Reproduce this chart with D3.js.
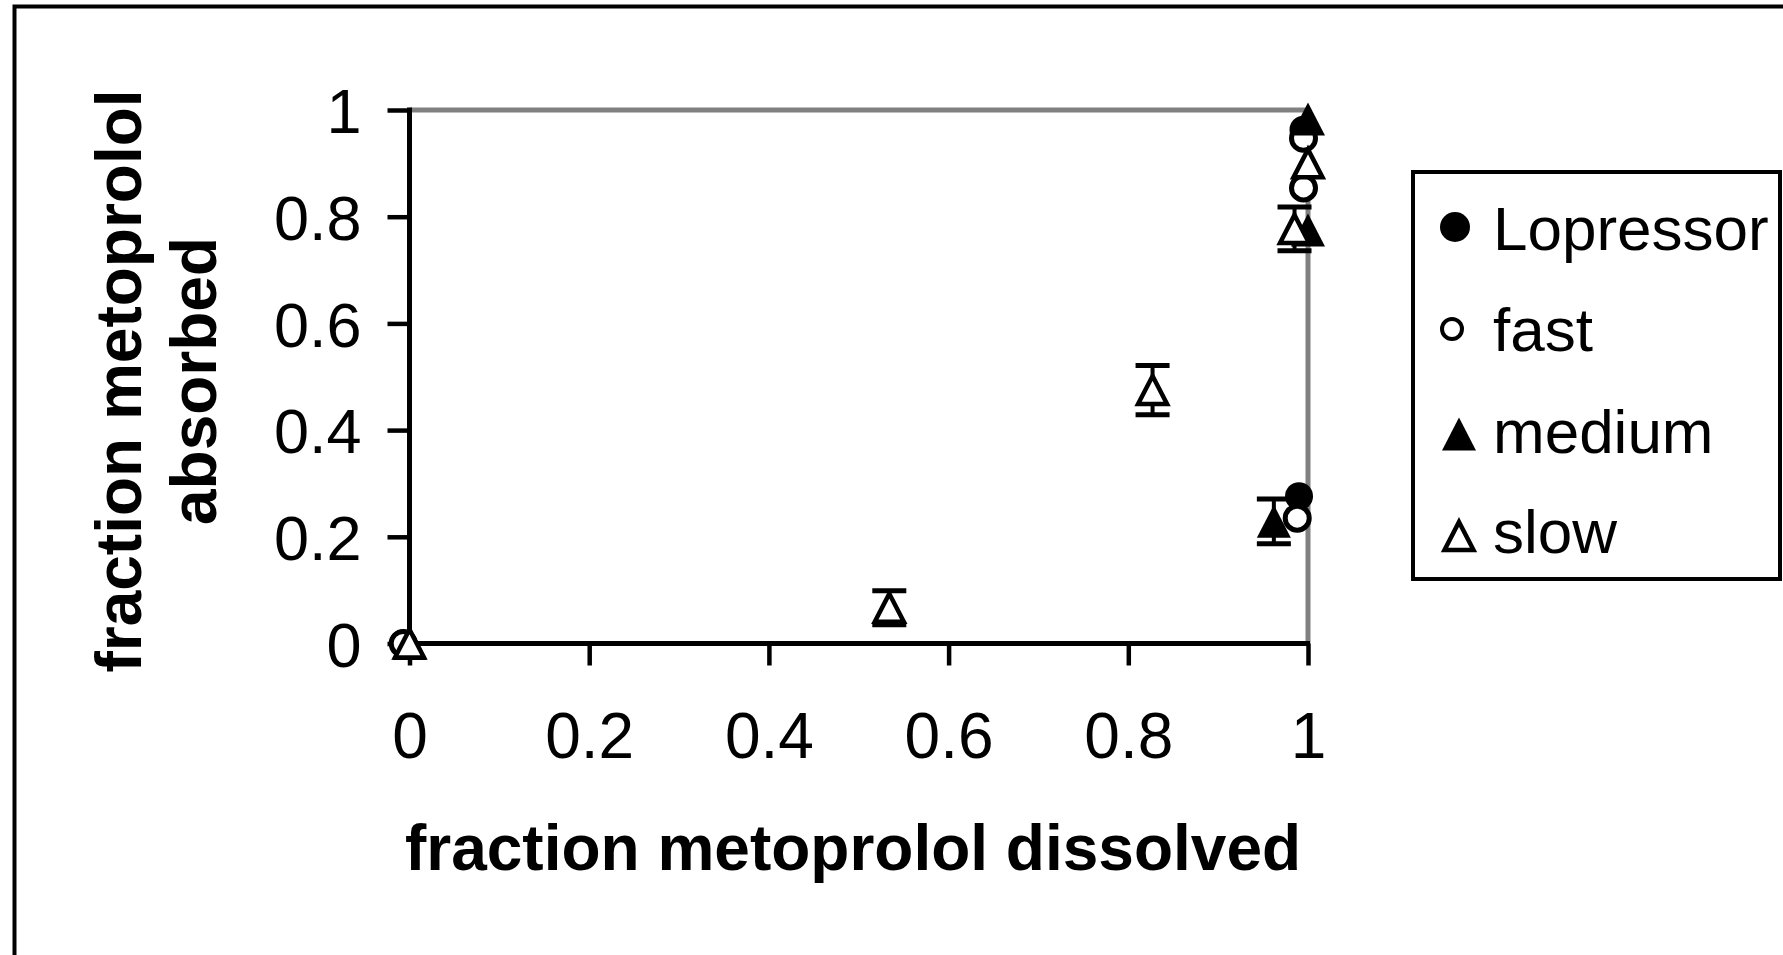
<!DOCTYPE html>
<html><head><meta charset="utf-8">
<script src="https://cdn.jsdelivr.net/npm/d3@7"></script>
<style>html,body{margin:0;padding:0;background:#fff;overflow:hidden}</style>
</head><body><svg id="c" width="1783" height="955"></svg>
<script>
// ---- data ----
const xTicks = [0, 0.2, 0.4, 0.6, 0.8, 1];
const yTicks = [0, 0.2, 0.4, 0.6, 0.8, 1];
const xTickLabels = ["0", "0.2", "0.4", "0.6", "0.8", "1"];
const yTickLabels = ["0", "0.2", "0.4", "0.6", "0.8", "1"];
const seriesNames = ["Lopressor", "fast", "medium", "slow"];

const lopressorX = [-0.007, 0.990, 0.995];
const lopressorY = [0, 0.276, 0.963];
const fastX = [-0.007, 0.988, 0.995, 0.995];
const fastY = [0, 0.235, 0.854, 0.947];
const mediumX = [0, 0.962, 1.0, 1.0];
const mediumY = [0, 0.229, 0.775, 0.983];
const mediumErr = [0, 0.042, 0, 0];
const slowX = [0, 0.534, 0.827, 0.985, 1.0];
const slowY = [0, 0.067, 0.475, 0.777, 0.90];
const slowErr = [0, 0.032, 0.046, 0.041, 0];

const svg = d3.select("#c");
const x = d3.scaleLinear().domain([0, 1]).range([409.5, 1308]);
const y = d3.scaleLinear().domain([0, 1]).range([643.5, 110]);

// outer frame
svg.append("rect").attr("x", 14.5).attr("y", 6.5).attr("width", 1800).attr("height", 1000)
  .attr("fill", "none").attr("stroke", "#000").attr("stroke-width", 4);

// plot frame (gray top and right)
svg.append("line").attr("x1", x(0)).attr("x2", x(1)).attr("y1", y(1)).attr("y2", y(1))
  .attr("stroke", "#808080").attr("stroke-width", 5);
svg.append("line").attr("x1", x(1)).attr("x2", x(1)).attr("y1", y(1)).attr("y2", y(0))
  .attr("stroke", "#808080").attr("stroke-width", 5);

const font = "'Liberation Sans', Arial, sans-serif";

// axes
const xAxis = d3.axisBottom(x).tickValues(xTicks).tickSize(22).tickPadding(0)
  .tickFormat((d, i) => xTickLabels[i]);
const gx = svg.append("g").attr("transform", `translate(0,${y(0)})`).call(xAxis);
gx.select(".domain").attr("stroke", "#000").attr("stroke-width", 5).attr("d", `M${x(0)-2},0H${x(1)+2}`);
gx.selectAll(".tick line").attr("stroke", "#000").attr("stroke-width", 4.5);
gx.selectAll(".tick text").attr("font-family", font).attr("font-size", 64).attr("fill", "#000")
  .attr("y", 114).attr("dy", 0);

const yAxis = d3.axisLeft(y).tickValues(yTicks).tickSize(22).tickPadding(0)
  .tickFormat((d, i) => yTickLabels[i]);
const gy = svg.append("g").attr("transform", `translate(${x(0)},0)`).call(yAxis);
gy.select(".domain").attr("stroke", "#000").attr("stroke-width", 5).attr("d", `M0,${y(1)-2.5}V${y(0)+2.5}`);
gy.selectAll(".tick line").attr("stroke", "#000").attr("stroke-width", 4.5);
gy.selectAll(".tick text").attr("font-family", font).attr("font-size", 63).attr("fill", "#000")
  .attr("x", -48).attr("dy", "0.36em");

// axis titles
svg.append("text").attr("x", 853).attr("y", 870).attr("text-anchor", "middle")
  .attr("font-family", font).attr("font-weight", "bold").attr("font-size", 64)
  .text("fraction metoprolol dissolved");
const yt = svg.append("text").attr("transform", "translate(0,381) rotate(-90)")
  .attr("text-anchor", "middle").attr("font-family", font).attr("font-weight", "bold").attr("font-size", 64);
yt.append("tspan").attr("x", 0).attr("y", 141).text("fraction metoprolol");
yt.append("tspan").attr("x", 0).attr("y", 216).text("absorbed");

// marker helpers
function tri(w, h) { return `M0,${-h/2}L${w/2},${h/2}L${-w/2},${h/2}Z`; }
function drawMarker(g, type, cx, cy, legend) {
  if (type === "Lopressor") {
    g.append("circle").attr("cx", cx).attr("cy", cy).attr("r", legend ? 15 : 14).attr("fill", "#000");
  } else if (type === "fast") {
    const r = legend ? 10 : 12;
    g.append("circle").attr("cx", cx).attr("cy", cy).attr("r", r).attr("fill", "#fff")
      .attr("stroke", "#000").attr("stroke-width", legend ? 4 : 5);
  } else if (type === "medium") {
    g.append("path").attr("transform", `translate(${cx},${cy})`).attr("d", tri(34, 33)).attr("fill", "#000");
  } else {
    g.append("path").attr("transform", `translate(${cx},${cy})`).attr("d", tri(29, 28))
      .attr("fill", "#fff").attr("stroke", "#000").attr("stroke-width", 4.5).attr("stroke-linejoin", "miter");
  }
}
function drawErr(g, xs, ys, es) {
  xs.forEach((xv, i) => {
    if (!es[i]) return;
    const cx = x(xv), t = y(ys[i] + es[i]), b = y(ys[i] - es[i]);
    g.append("line").attr("x1", cx).attr("x2", cx).attr("y1", t).attr("y2", b).attr("stroke", "#000").attr("stroke-width", 4);
    [t, b].forEach(yy => g.append("line").attr("x1", cx - 17).attr("x2", cx + 17).attr("y1", yy).attr("y2", yy)
      .attr("stroke", "#000").attr("stroke-width", 5));
  });
}

const plot = svg.append("g");
// draw order (series order): Lopressor, fast, medium, slow
const order = [
  ["Lopressor", lopressorX, lopressorY, null],
  ["fast", fastX, fastY, null],
  ["medium", mediumX, mediumY, mediumErr],
  ["slow", slowX, slowY, slowErr]
];
order.forEach(([name, xs, ys, es]) => {
  const g = plot.append("g");
  if (es) drawErr(g, xs, ys, es);
  xs.forEach((xv, i) => drawMarker(g, name, x(xv), y(ys[i]), false));
});

// legend
const lg = svg.append("g");
lg.append("rect").attr("x", 1413).attr("y", 172).attr("width", 367).attr("height", 407)
  .attr("fill", "#fff").attr("stroke", "#000").attr("stroke-width", 4);
const legX = [1455, 1452, 1459, 1459];
const legY = [227, 329, 434, 536];
const legBase = [250, 351, 453, 553];
seriesNames.forEach((n, i) => {
  drawMarker(lg, n, legX[i], legY[i], true);
  lg.append("text").attr("x", 1493).attr("y", legBase[i]).attr("font-family", font)
    .attr("font-size", 62).text(n);
});
</script></body></html>
